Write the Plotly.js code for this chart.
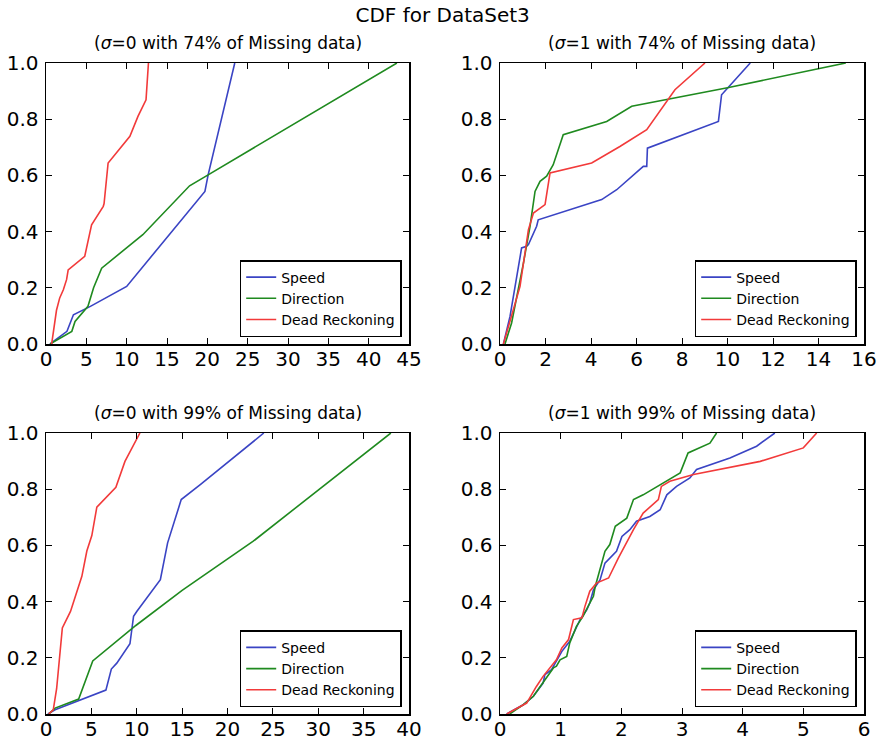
<!DOCTYPE html>
<html>
<head>
<meta charset="utf-8">
<script src="https://cdn.plot.ly/plotly-3.0.1.min.js"></script>
<style>html,body{margin:0;padding:0;background:#fff;}#chart{width:880px;height:742px;}</style>
</head>
<body>
<div id="chart"></div>
<script>
// ---- Data ----
const seriesNames = ["Speed", "Direction", "Dead Reckoning"];
const panelTitles = [
  "(<i>σ</i>=0 with 74% of Missing data)",
  "(<i>σ</i>=1 with 74% of Missing data)",
  "(<i>σ</i>=0 with 99% of Missing data)",
  "(<i>σ</i>=1 with 99% of Missing data)"
];

// Panel 1: sigma=0, 74%
const p1SpeedX = [0.5, 2.6, 3.4, 5.5, 10.0, 14.1, 19.7, 20.1, 23.4];
const p1SpeedY = [0, 0.045, 0.104, 0.134, 0.205, 0.347, 0.543, 0.602, 1.0];
const p1DirX = [0.5, 3.2, 3.6, 5.2, 5.9, 6.9, 12.0, 17.8, 20.1, 24.0, 43.5];
const p1DirY = [0, 0.045, 0.08, 0.134, 0.2, 0.27, 0.389, 0.563, 0.602, 0.668, 1.0];
const p1DrX = [0.7, 1.3, 1.7, 2.15, 2.55, 2.75, 4.8, 5.25, 5.65, 7.1, 7.2, 7.7, 10.4, 11.4, 12.4, 12.7];
const p1DrY = [0, 0.12, 0.164, 0.193, 0.229, 0.264, 0.312, 0.371, 0.424, 0.49, 0.50, 0.644, 0.739, 0.81, 0.869, 1.0];

// Panel 2: sigma=1, 74%
const p2SpeedX = [0.15, 0.44, 0.95, 1.17, 1.25, 1.47, 1.61, 1.68, 4.47, 5.13, 6.3, 6.45, 6.48, 9.6, 9.74, 11.0];
const p2SpeedY = [0, 0.098, 0.342, 0.348, 0.354, 0.395, 0.419, 0.442, 0.514, 0.549, 0.632, 0.632, 0.697, 0.792, 0.887, 1.0];
const p2DirX = [0.22, 0.51, 1.03, 1.32, 1.54, 1.76, 2.05, 2.34, 2.78, 4.69, 5.79, 10.0, 15.2];
const p2DirY = [0, 0.075, 0.288, 0.419, 0.543, 0.579, 0.597, 0.638, 0.745, 0.792, 0.846, 0.912, 1.0];
const p2DrX = [0.15, 0.88, 1.25, 1.47, 1.98, 2.2, 4.03, 5.27, 6.45, 7.69, 9.01];
const p2DrY = [0, 0.205, 0.407, 0.466, 0.496, 0.609, 0.644, 0.703, 0.763, 0.905, 1.0];

// Panel 3: sigma=0, 99%
const p3SpeedX = [0.2, 1.0, 1.5, 6.6, 7.2, 7.8, 9.25, 9.65, 10.0, 12.6, 13.4, 14.9, 17.0, 24.0];
const p3SpeedY = [0, 0.015, 0.021, 0.085, 0.16, 0.181, 0.25, 0.348, 0.365, 0.478, 0.609, 0.763, 0.816, 1.0];
const p3DirX = [0.3, 1.0, 3.6, 5.15, 9.9, 15.0, 22.8, 38.0];
const p3DirY = [0, 0.021, 0.053, 0.189, 0.315, 0.44, 0.614, 1.0];
const p3DrX = [0.3, 0.8, 1.17, 1.36, 1.8, 2.7, 3.95, 4.5, 5.05, 5.6, 7.7, 8.7, 10.35];
const p3DrY = [0, 0.015, 0.09, 0.158, 0.306, 0.365, 0.49, 0.58, 0.635, 0.736, 0.807, 0.899, 1.0];

// Panel 4: sigma=1, 99%
const p4SpeedX = [0.11, 0.385, 0.55, 0.71, 0.74, 0.85, 0.91, 1.02, 1.15, 1.26, 1.32, 1.43, 1.48, 1.54, 1.65, 1.73, 1.92, 2.01, 2.14, 2.25, 2.47, 2.64, 2.75, 2.91, 3.13, 3.24, 3.79, 4.23, 4.53];
const p4SpeedY = [0, 0.033, 0.063, 0.11, 0.14, 0.158, 0.181, 0.223, 0.259, 0.312, 0.336, 0.371, 0.395, 0.442, 0.478, 0.537, 0.579, 0.632, 0.656, 0.686, 0.703, 0.727, 0.78, 0.81, 0.84, 0.87, 0.911, 0.953, 1.0];
const p4DirX = [0.16, 0.385, 0.55, 0.77, 0.88, 0.93, 0.99, 1.1, 1.15, 1.26, 1.37, 1.48, 1.54, 1.57, 1.65, 1.73, 1.81, 1.9, 2.09, 2.2, 2.36, 2.69, 2.97, 3.1, 3.46, 3.57];
const p4DirY = [0, 0.033, 0.063, 0.128, 0.164, 0.17, 0.193, 0.205, 0.253, 0.312, 0.348, 0.395, 0.419, 0.454, 0.514, 0.579, 0.603, 0.668, 0.697, 0.763, 0.78, 0.822, 0.858, 0.929, 0.964, 1.0];
const p4DrX = [0.11, 0.44, 0.6, 0.71, 0.93, 1.02, 1.13, 1.21, 1.35, 1.4, 1.48, 1.59, 1.79, 1.95, 2.2, 2.36, 2.61, 2.66, 2.8, 3.19, 4.29, 5.0, 5.22];
const p4DrY = [0, 0.039, 0.098, 0.134, 0.193, 0.235, 0.265, 0.336, 0.342, 0.383, 0.437, 0.466, 0.484, 0.555, 0.656, 0.715, 0.763, 0.81, 0.828, 0.852, 0.899, 0.947, 1.0];

const xRanges = [[0, 45], [0, 16], [0, 40], [0, 6]];
const xDticks = [5, 2, 5, 1];

// ---- Build ----
const W = 880, H = 742;
const colors = ["#3a44c4", "#1f8a1f", "#f23a3a"];
const panels = [
  [[p1SpeedX, p1SpeedY], [p1DirX, p1DirY], [p1DrX, p1DrY]],
  [[p2SpeedX, p2SpeedY], [p2DirX, p2DirY], [p2DrX, p2DrY]],
  [[p3SpeedX, p3SpeedY], [p3DirX, p3DirY], [p3DrX, p3DrY]],
  [[p4SpeedX, p4SpeedY], [p4DirX, p4DirY], [p4DrX, p4DrY]]
];
// pixel boxes [left, right, top, bottom]
const boxes = [[46, 409, 63, 344], [500, 864, 63, 344], [46, 409, 433, 714], [500, 864, 433, 714]];
const legendBoxes = [[401.7, 337], [856.7, 337], [401.7, 707.3], [856.7, 707.3]];

const font = "DejaVu Sans, Arial, sans-serif";
const traces = [];
const layout = {
  width: W, height: H, autosize: false,
  margin: {l: 0, r: 0, t: 0, b: 0},
  paper_bgcolor: "#ffffff", plot_bgcolor: "#ffffff",
  font: {family: font, color: "#000000"},
  title: {text: "CDF for DataSet3", x: 0.503, xanchor: "center", y: 1 - 15 / H, yanchor: "middle", font: {size: 20, family: font, color: "#000"}},
  annotations: [],
  showlegend: true
};

panels.forEach((p, i) => {
  const n = i + 1;
  const xa = n === 1 ? "x" : "x" + n;
  const ya = n === 1 ? "y" : "y" + n;
  const lg = n === 1 ? "legend" : "legend" + n;
  p.forEach((s, j) => {
    traces.push({
      x: s[0], y: s[1], type: "scatter", mode: "lines",
      name: seriesNames[j], xaxis: xa, yaxis: ya, legend: lg,
      line: {color: colors[j], width: 1.6},
      hoverinfo: "skip"
    });
  });
  const b = boxes[i];
  const axCommon = {
    showgrid: false, zeroline: false, showline: true, linecolor: "#000", linewidth: 1.5,
    mirror: "allticks", ticks: "inside", ticklen: 6, tickwidth: 1, tickcolor: "#000",
    tickfont: {size: 20, family: font, color: "#000"}, fixedrange: true
  };
  layout["xaxis" + (n === 1 ? "" : n)] = Object.assign({}, axCommon, {
    domain: [b[0] / W, b[1] / W], range: xRanges[i], tick0: 0, dtick: xDticks[i],
    anchor: ya, ticklabelstandoff: -4
  });
  layout["yaxis" + (n === 1 ? "" : n)] = Object.assign({}, axCommon, {
    domain: [1 - b[3] / H, 1 - b[2] / H], range: [0, 1], tick0: 0, dtick: 0.2,
    tickformat: ".1f", anchor: xa, ticklabelstandoff: 2
  });
  const lb = legendBoxes[i];
  layout[lg] = {
    x: lb[0] / W, xanchor: "right", y: 1 - lb[1] / H, yanchor: "bottom",
    xref: "paper", yref: "paper",
    bgcolor: "#ffffff", bordercolor: "#000", borderwidth: 1.5,
    font: {size: 14, family: font, color: "#000"},
    tracegroupgap: 0, itemwidth: 30
  };
  layout.annotations.push({
    text: panelTitles[i], xref: "paper", yref: "paper",
    x: (b[0] + b[1]) / 2 / W, y: 1 - (b[2] - 8) / H, xanchor: "center", yanchor: "bottom",
    showarrow: false, font: {size: 17, family: font, color: "#000"}
  });
});

Plotly.newPlot("chart", traces, layout, {staticPlot: true, displayModeBar: false});
</script>
</body>
</html>
